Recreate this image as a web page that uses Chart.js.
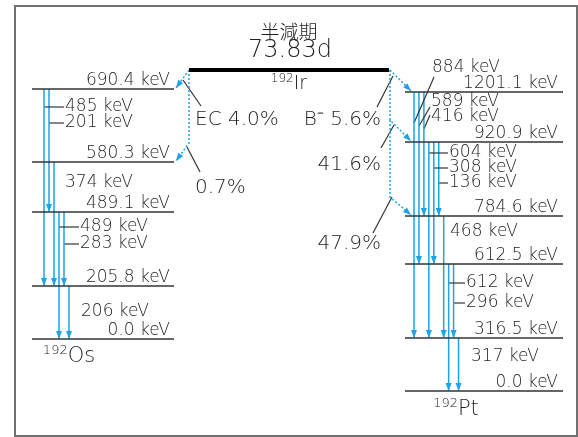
<!DOCTYPE html>
<html>
<head>
<meta charset="utf-8">
<script src="https://cdn.jsdelivr.net/npm/chart.js@4/dist/chart.umd.min.js"></script>
<style>
  html, body { margin: 0; padding: 0; background: #fff; }
  canvas { display: block; }
</style>
</head>
<body>
<canvas id="scheme" width="578" height="437"></canvas>
<script>
// ---- data ----
const halfLife = "73.83d";
const parentMass = "192", parentName = "Ir";
const osLevels = [690.4, 580.3, 489.1, 205.8, 0.0];
const ptLevels = [1201.1, 920.9, 784.6, 612.5, 316.5, 0.0];
const osGammas = [485, 201, 374, 489, 283, 206];
const osGammaFrom = [690.4, 690.4, 580.3, 489.1, 489.1, 205.8];
const osGammaTo = [205.8, 489.1, 205.8, 0.0, 205.8, 0.0];
const ptGammas = [884, 589, 416, 604, 308, 136, 468, 612, 296, 317];
const ptGammaFrom = [1201.1, 1201.1, 1201.1, 920.9, 920.9, 920.9, 784.6, 612.5, 612.5, 316.5];
const ptGammaTo = [316.5, 612.5, 784.6, 316.5, 612.5, 784.6, 316.5, 0.0, 316.5, 0.0];
const ecBranches = [4.0, 0.7];
const ecTo = [690.4, 580.3];
const betaBranches = [5.6, 41.6, 47.9];
const betaTo = [1201.1, 920.9, 784.6];

// ---- layout (schematic, scale units) ----
const osRowY = [89, 162, 212, 286, 339];
const ptRowY = [92, 142, 216, 264, 338, 391];
const osSpan = [32, 174], ptSpan = [405, 563];
const parentSpan = [189, 389], parentY = 70;
const osGammaX0 = 44, ptGammaX0 = 414, gammaStep = 4.95;
// [kind, labelX, labelY, leadX, leadY]
const osGammaLabel = [
  ["tick", 65, 107], ["tick", 65, 123], ["free", 65, 183],
  ["tick", 80, 227], ["tick", 80, 244], ["free", 81, 312]
];
const ptGammaLabel = [
  ["lead", 432, 68, 434, 77], ["lead", 431, 102, 430, 107], ["lead", 431, 117, 430, 115],
  ["tick", 449, 153], ["tick", 449, 168], ["tick", 449, 183], ["free", 450, 232],
  ["tick", 466, 283], ["tick", 466, 303], ["free", 471, 357]
];

const BLUE = "#1ea3e6", INK = "#333333", TEXT = "#1e1e1e";
const FONT = "'DejaVu Sans', sans-serif";
const WEIGHT = "200 ";

const osY = e => osRowY[osLevels.indexOf(e)];
const ptY = e => ptRowY[ptLevels.indexOf(e)];

const datasets = [];
function seg(points, color, width, extra) {
  datasets.push(Object.assign({
    data: points.map(p => ({ x: p[0], y: p[1] })),
    showLine: true, borderColor: color, borderWidth: width,
    pointRadius: 0, fill: false, tension: 0
  }, extra || {}));
}

// levels
osLevels.forEach((e, i) => seg([[osSpan[0], osRowY[i]], [osSpan[1], osRowY[i]]], INK, 1.5));
ptLevels.forEach((e, i) => seg([[ptSpan[0], ptRowY[i]], [ptSpan[1], ptRowY[i]]], INK, 1.5));
seg([[parentSpan[0], parentY], [parentSpan[1], parentY]], "#000", 4);

// gamma transitions
osGammas.forEach((g, i) => {
  const x = osGammaX0 + i * 5;
  seg([[x, osY(osGammaFrom[i])], [x, osY(osGammaTo[i])]], BLUE, 1.5, { arrow: true });
  const L = osGammaLabel[i];
  if (L[0] === "tick") seg([[x, L[2]], [L[1] - 1, L[2]]], INK, 1.2);
});
ptGammas.forEach((g, i) => {
  const x = ptGammaX0 + i * gammaStep;
  seg([[x, ptY(ptGammaFrom[i])], [x, ptY(ptGammaTo[i])]], BLUE, 1.5, { arrow: true });
  const L = ptGammaLabel[i];
  if (L[0] === "tick") seg([[x, L[2]], [L[1] - 1, L[2]]], INK, 1.2);
  if (L[0] === "lead") seg([[x, ptY(ptGammaFrom[i]) + 31 + i * 3], [L[3], L[4]]], INK, 1.2);
});

// EC branches (dotted)
const dot = { borderDash: [2, 2], arrow: true };
seg([[parentSpan[0], parentY], [osSpan[1] + 2, osY(ecTo[0]) - 1]], BLUE, 1.5, dot);
seg([[parentSpan[0], parentY], [parentSpan[0], osY(ecTo[1]) - 19], [osSpan[1] + 2, osY(ecTo[1]) - 1]], BLUE, 1.5, dot);
// beta branches (dotted)
seg([[parentSpan[1] + 1, parentY], [ptSpan[0] + 6, ptY(betaTo[0]) - 1]], BLUE, 1.5, dot);
seg([[parentSpan[1] + 1, parentY], [parentSpan[1] + 1, ptY(betaTo[1]) - 22], [ptSpan[0] + 6, ptY(betaTo[1]) - 1]], BLUE, 1.5, dot);
seg([[parentSpan[1] + 1, ptY(betaTo[1]) - 22], [parentSpan[1] + 1, ptY(betaTo[2]) - 19], [ptSpan[0] + 6, ptY(betaTo[2]) - 1]], BLUE, 1.5, dot);

// leader lines for branch labels
seg([[183, 80], [201, 106]], INK, 1.2);
seg([[187, 147], [200, 172]], INK, 1.2);
seg([[393, 76], [377, 107]], INK, 1.2);
seg([[394, 125], [381, 148]], INK, 1.2);
seg([[392, 197], [373, 233]], INK, 1.2);

const kev = v => v.toFixed(1) + " keV";

const decorPlugin = {
  id: "decor",
  beforeDraw(chart) {
    const ctx = chart.ctx, X = chart.scales.x, Y = chart.scales.y;
    ctx.save();
    ctx.strokeStyle = "#707070";
    ctx.lineWidth = 2;
    ctx.strokeRect(X.getPixelForValue(15), Y.getPixelForValue(6), X.getPixelForValue(577) - X.getPixelForValue(15), Y.getPixelForValue(436) - Y.getPixelForValue(6));
    ctx.restore();
  },
  afterDatasetsDraw(chart) {
    const ctx = chart.ctx, X = chart.scales.x, Y = chart.scales.y;
    const px = v => X.getPixelForValue(v), py = v => Y.getPixelForValue(v);

    // arrowheads
    chart.data.datasets.forEach((ds, i) => {
      if (!ds.arrow) return;
      const pts = chart.getDatasetMeta(i).data;
      const a = pts[pts.length - 2], b = pts[pts.length - 1];
      const ang = Math.atan2(b.y - a.y, b.x - a.x);
      const len = 8, half = 3;
      ctx.save();
      ctx.translate(b.x, b.y);
      ctx.rotate(ang);
      ctx.fillStyle = BLUE;
      ctx.beginPath();
      ctx.moveTo(0, 0);
      ctx.lineTo(-len, -half);
      ctx.lineTo(-len, half);
      ctx.closePath();
      ctx.fill();
      ctx.restore();
    });

    ctx.save();
    ctx.fillStyle = TEXT;
    function text(s, x, y, size, align, base, font) {
      ctx.font = WEIGHT + size + "px " + (font || FONT);
      ctx.textAlign = align || "left";
      ctx.textBaseline = base || "middle";
      ctx.fillText(s, px(x), py(y));
    }
    function supText(sup, main, x, y, size) {
      const sub = WEIGHT + Math.round(size * 0.62) + "px " + FONT;
      const big = WEIGHT + size + "px " + FONT;
      ctx.font = sub;
      const w1 = ctx.measureText(sup).width;
      ctx.font = big;
      const w2 = ctx.measureText(main).width;
      const left = px(x) - (w1 + w2) / 2;
      ctx.textAlign = "left";
      ctx.textBaseline = "alphabetic";
      ctx.font = sub;
      ctx.fillText(sup, left, py(y) - size * 0.38);
      ctx.font = big;
      ctx.fillText(main, left + w1, py(y));
    }

    // level labels
    osLevels.forEach((e, i) => text(kev(e), osSpan[1] - 4, osRowY[i] - 4, 17, "right", "alphabetic"));
    ptLevels.forEach((e, i) => text(kev(e), ptSpan[1] - 5, ptRowY[i] - 4, 17, "right", "alphabetic"));

    // gamma labels
    osGammas.forEach((g, i) => text(g + " keV", osGammaLabel[i][1], osGammaLabel[i][2], 17));
    ptGammas.forEach((g, i) => text(g + " keV", ptGammaLabel[i][1], ptGammaLabel[i][2], 17));

    // branches
    text("EC " + ecBranches[0].toFixed(1) + "%", 195, 120, 20);
    text(ecBranches[1].toFixed(1) + "%", 195, 188, 20);
    text("B\u207B " + betaBranches[0].toFixed(1) + "%", 381, 120, 20, "right");
    text(betaBranches[1].toFixed(1) + "%", 381, 165, 20, "right");
    text(betaBranches[2].toFixed(1) + "%", 381, 244, 20, "right");

    // parent
    text("半減期", 289, 32, 19, "center", "middle", "'Noto Sans CJK JP', sans-serif");
    text(halfLife, 290, 51, 24, "center");
    supText(parentMass, parentName, 289, 89, 19);
    supText("192", "Os", 69, 362, 21);
    supText("192", "Pt", 456, 415, 21);
    ctx.restore();
  }
};

new Chart(document.getElementById("scheme"), {
  type: "scatter",
  data: { datasets },
  options: {
    responsive: false,
    animation: false,
    layout: { padding: 0 },
    plugins: { legend: { display: false }, tooltip: { enabled: false } },
    scales: {
      x: { type: "linear", min: 0, max: 578, display: false },
      y: { type: "linear", min: 0, max: 437, reverse: true, display: false }
    }
  },
  plugins: [decorPlugin]
});
</script>
</body>
</html>
